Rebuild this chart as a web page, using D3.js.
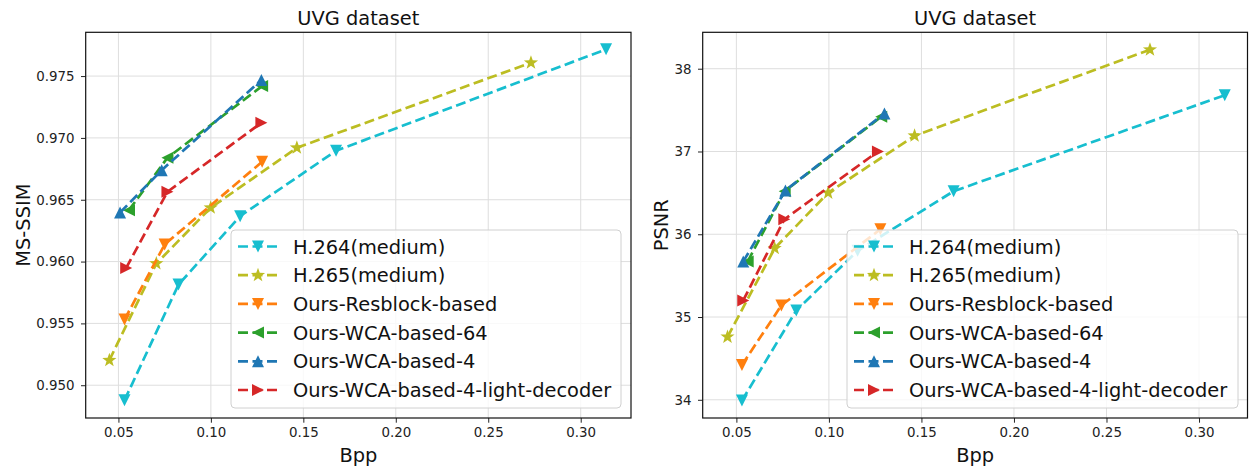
<!DOCTYPE html>
<html>
<head>
<meta charset="utf-8">
<script src="https://cdn.jsdelivr.net/npm/d3@7"></script>
<style>
  body { margin: 0; background: #fff; }
  svg { display: block; font-family: "DejaVu Sans", sans-serif; }
</style>
</head>
<body>
<svg id="chart" width="1250" height="472"></svg>
<script>
// ---- data ----
const seriesNames = ["H.264(medium)", "H.265(medium)", "Ours-Resblock-based", "Ours-WCA-based-64", "Ours-WCA-based-4", "Ours-WCA-based-4-light-decoder"];
const seriesColors = ["#17becf", "#bcbd22", "#ff7f0e", "#2ca02c", "#1f77b4", "#d62728"];
const seriesMarkers = ["down", "star", "down", "left", "up", "right"];

// MS-SSIM panel
const ssimH264Bpp = [0.0533, 0.0825, 0.1158, 0.1677, 0.3137];
const ssimH264Val = [0.94879, 0.95814, 0.96367, 0.96896, 0.97716];
const ssimH265Bpp = [0.0451, 0.0705, 0.0999, 0.1465, 0.2731];
const ssimH265Val = [0.95202, 0.95984, 0.96435, 0.96920, 0.97608];
const ssimResBpp = [0.0533, 0.0750, 0.1277];
const ssimResVal = [0.95531, 0.96138, 0.96807];
const ssimW64Bpp = [0.0557, 0.0765, 0.1277];
const ssimW64Val = [0.96416, 0.96839, 0.97419];
const ssimW4Bpp = [0.0509, 0.0734, 0.1273];
const ssimW4Val = [0.96397, 0.96739, 0.97468];
const ssimLightBpp = [0.0542, 0.0765, 0.1273];
const ssimLightVal = [0.95949, 0.96564, 0.97122];

// PSNR panel
const psnrH264Bpp = [0.0530, 0.0824, 0.1155, 0.1674, 0.3139];
const psnrH264Val = [33.99, 35.08, 35.80, 36.52, 37.68];
const psnrH265Bpp = [0.0452, 0.0707, 0.0996, 0.1463, 0.2735];
const psnrH265Val = [34.76, 35.83, 36.50, 37.19, 38.23];
const psnrResBpp = [0.0530, 0.0743, 0.1278];
const psnrResVal = [34.42, 35.14, 36.06];
const psnrW64Bpp = [0.0561, 0.0761, 0.1283];
const psnrW64Val = [35.67, 36.52, 37.42];
const psnrW4Bpp = [0.0537, 0.0765, 0.1300];
const psnrW4Val = [35.67, 36.53, 37.46];
const psnrLightBpp = [0.0537, 0.0759, 0.1265];
const psnrLightVal = [35.20, 36.18, 37.00];

const xTicks = [0.05, 0.10, 0.15, 0.20, 0.25, 0.30];
const ssimTicks = [0.950, 0.955, 0.960, 0.965, 0.970, 0.975];
const psnrTicks = [34, 35, 36, 37, 38];

const titleText = "UVG dataset";
const xLabel = "Bpp";

// ---- drawing ----
const svg = d3.select("#chart");

function zip(xs, ys) { return xs.map((x, i) => ({ x: x, y: ys[i] })); }

function markerPath(type, size) {
  const s = size;
  if (type === "star") {
    const pts = [];
    for (let i = 0; i < 10; i++) {
      const r = i % 2 === 0 ? s * 0.62 : s * 0.25;
      const a = -Math.PI / 2 + i * Math.PI / 5;
      pts.push([r * Math.cos(a), r * Math.sin(a)]);
    }
    return "M" + pts.map(p => p.join(",")).join("L") + "Z";
  }
  const h = s * 0.5;
  if (type === "down") return `M${-h},${-h}L${h},${-h}L0,${h}Z`;
  if (type === "up") return `M${-h},${h}L${h},${h}L0,${-h}Z`;
  if (type === "left") return `M${h},${-h}L${h},${h}L${-h},0Z`;
  if (type === "right") return `M${-h},${-h}L${-h},${h}L${h},0Z`;
}

function panel(opt) {
  const { x0, x1, y0, y1, xDomain, yDomain, yTicks, yFmt, yLabel, yLabelX, series, legendX, legendW } = opt;
  const x = d3.scaleLinear().domain(xDomain).range([x0, x1]);
  const y = d3.scaleLinear().domain(yDomain).range([y1, y0]);
  const g = svg.append("g");

  // grid
  g.append("g").selectAll("line").data(xTicks).join("line")
    .attr("x1", d => x(d)).attr("x2", d => x(d)).attr("y1", y0).attr("y2", y1)
    .attr("stroke", "#dedede").attr("stroke-width", 1);
  g.append("g").selectAll("line").data(yTicks).join("line")
    .attr("x1", x0).attr("x2", x1).attr("y1", d => y(d)).attr("y2", d => y(d))
    .attr("stroke", "#dedede").attr("stroke-width", 1);

  // axes
  const xAxis = d3.axisBottom(x).tickValues(xTicks).tickFormat(d3.format(".2f")).tickSize(4.7).tickPadding(5);
  const yAxis = d3.axisLeft(y).tickValues(yTicks).tickFormat(yFmt).tickSize(4.7).tickPadding(6.5);
  const gx = g.append("g").attr("transform", `translate(0,${y1})`).call(xAxis);
  const gy = g.append("g").attr("transform", `translate(${x0},0)`).call(yAxis);
  [gx, gy].forEach(a => {
    a.select(".domain").remove();
    a.selectAll("text").attr("font-size", 13.4).attr("fill", "#222").attr("font-family", "DejaVu Sans");
    a.selectAll("line").attr("stroke", "#222");
  });

  // series
  const clip = "clip" + Math.round(x0);
  svg.append("defs").append("clipPath").attr("id", clip)
    .append("rect").attr("x", x0).attr("y", y0).attr("width", x1 - x0).attr("height", y1 - y0);
  const plot = g.append("g").attr("clip-path", `url(#${clip})`);
  const line = d3.line().x(d => x(d.x)).y(d => y(d.y));
  series.forEach((pts, i) => {
    plot.append("path").datum(pts).attr("d", line)
      .attr("fill", "none").attr("stroke", seriesColors[i]).attr("stroke-width", 2.7)
      .attr("stroke-dasharray", "10,4.5");
    plot.selectAll(null).data(pts).join("path")
      .attr("transform", d => `translate(${x(d.x)},${y(d.y)})`)
      .attr("d", markerPath(seriesMarkers[i], 12))
      .attr("fill", seriesColors[i]);
  });

  // frame
  g.append("rect").attr("x", x0).attr("y", y0).attr("width", x1 - x0).attr("height", y1 - y0)
    .attr("fill", "none").attr("stroke", "#111").attr("stroke-width", 1.2);

  // title & labels
  g.append("text").attr("x", (x0 + x1) / 2).attr("y", 24.5).attr("text-anchor", "middle")
    .attr("font-size", 19.4).attr("fill", "#111").text(titleText);
  g.append("text").attr("x", (x0 + x1) / 2).attr("y", 462).attr("text-anchor", "middle")
    .attr("font-size", 19.4).attr("fill", "#111").text(xLabel);
  g.append("text").attr("transform", `translate(${yLabelX},${(y0 + y1) / 2}) rotate(-90)`)
    .attr("text-anchor", "middle").attr("font-size", 19.4).attr("fill", "#111").text(yLabel);

  // legend
  const lg = g.append("g");
  lg.append("rect").attr("x", legendX).attr("y", 230).attr("width", legendW).attr("height", 178)
    .attr("rx", 4).attr("fill", "#fff").attr("fill-opacity", 0.8).attr("stroke", "#d0d0d0").attr("stroke-width", 1);
  seriesNames.forEach((name, i) => {
    const cy = 246.5 + i * 28.7;
    const row = lg.append("g");
    row.append("line").attr("x1", legendX + 7).attr("x2", legendX + 47).attr("y1", cy).attr("y2", cy)
      .attr("stroke", seriesColors[i]).attr("stroke-width", 2.7).attr("stroke-dasharray", "10,4.5");
    row.append("path").attr("transform", `translate(${legendX + 27},${cy})`)
      .attr("d", markerPath(seriesMarkers[i], 12)).attr("fill", seriesColors[i]);
    row.append("text").attr("x", legendX + 62).attr("y", cy + 7).attr("font-size", 19.4)
      .attr("fill", "#111").text(name);
  });
}

panel({
  x0: 85.7, x1: 631, y0: 32.3, y1: 418,
  xDomain: [0.0323, 0.3272], yDomain: [0.94735, 0.97854],
  yTicks: ssimTicks, yFmt: d3.format(".3f"), yLabel: "MS-SSIM", yLabelX: 29.5,
  series: [zip(ssimH264Bpp, ssimH264Val), zip(ssimH265Bpp, ssimH265Val), zip(ssimResBpp, ssimResVal),
           zip(ssimW64Bpp, ssimW64Val), zip(ssimW4Bpp, ssimW4Val), zip(ssimLightBpp, ssimLightVal)],
  legendX: 231, legendW: 390
});

panel({
  x0: 702.7, x1: 1247.5, y0: 32.3, y1: 418,
  xDomain: [0.0318, 0.3262], yDomain: [33.78, 38.44],
  yTicks: psnrTicks, yFmt: d3.format("d"), yLabel: "PSNR", yLabelX: 668,
  series: [zip(psnrH264Bpp, psnrH264Val), zip(psnrH265Bpp, psnrH265Val), zip(psnrResBpp, psnrResVal),
           zip(psnrW64Bpp, psnrW64Val), zip(psnrW4Bpp, psnrW4Val), zip(psnrLightBpp, psnrLightVal)],
  legendX: 847, legendW: 391
});
</script>
</body>
</html>
